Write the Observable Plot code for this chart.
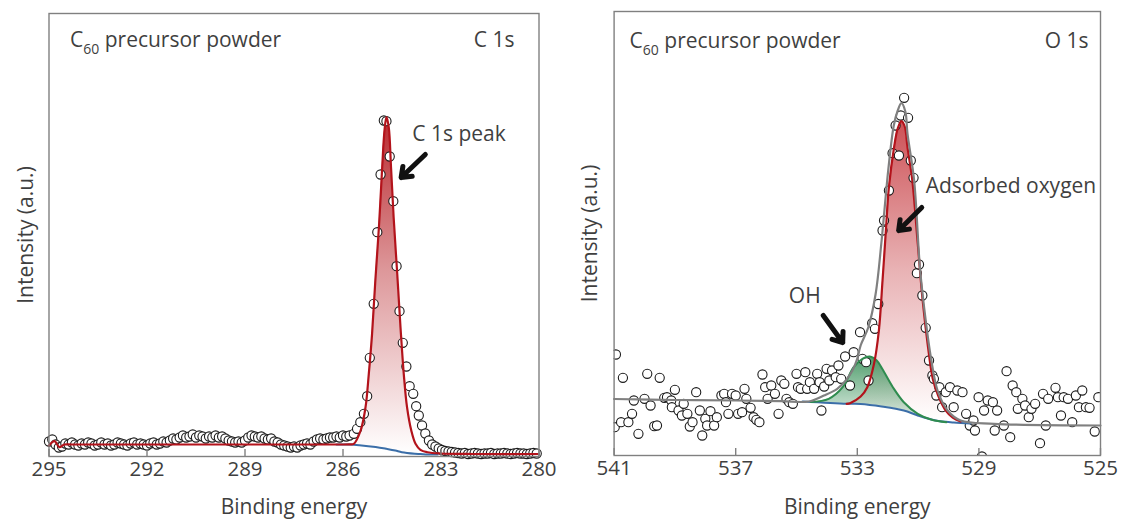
<!DOCTYPE html>
<html><head><meta charset="utf-8">
<script src="https://cdn.jsdelivr.net/npm/d3@7"></script>
<script src="https://cdn.jsdelivr.net/npm/@observablehq/plot@0.6"></script>
<style>
body{margin:0;background:#fff;}
#wrap{display:flex;width:1123px;height:522px;overflow:hidden;}
</style></head><body><div id="wrap"></div>
<script>
// ---------- C 1s panel data ----------
const c1sTicks = [295, 292, 289, 286, 283, 280];
const c1sE = [295.0,294.9,294.8,294.7,294.6,294.5,294.4,294.3,294.2,294.1,294.0,293.9,293.8,293.7,293.6,293.5,293.4,293.3,293.2,293.1,293.0,292.9,292.8,292.7,292.6,292.5,292.4,292.3,292.2,292.1,292.0,291.9,291.8,291.7,291.6,291.5,291.4,291.3,291.2,291.1,291.0,290.9,290.8,290.7,290.6,290.5,290.4,290.3,290.2,290.1,290.0,289.9,289.8,289.7,289.6,289.5,289.4,289.3,289.2,289.1,289.0,288.9,288.8,288.7,288.6,288.5,288.4,288.3,288.2,288.1,288.0,287.9,287.8,287.7,287.6,287.5,287.4,287.3,287.2,287.1,287.0,286.9,286.8,286.7,286.6,286.5,286.4,286.3,286.2,286.1,286.0,285.9,285.8,
285.67,285.57,285.47,285.36,285.26,285.18,285.06,284.95,284.85,284.75,284.67,284.57,284.46,284.36,284.27,284.17,284.06,283.96,283.85,283.76,283.68,283.58,283.48,283.37,
283.27,283.17,283.07,282.97,282.87,282.77,282.67,282.57,282.47,
282.37,282.27,282.17,282.07,281.97,281.87,281.77,281.67,281.57,281.47,281.37,281.27,281.17,281.07,280.97,280.87,280.77,280.67,280.57,280.47,280.37,280.27,280.17,280.07];
const c1sI = [15,17,12,9,10,13,12,14,12,11,
13,12,14,13,11,12,14,12,13,11,
12,14,13,12,11,13,14,12,13,12,
11,13,14,12,13,15,14,16,18,17,
19,21,19,20,22,19,21,20,18,20,
19,21,19,20,18,16,15,14,15,14,
16,19,21,20,19,20,18,17,18,15,
14,12,11,10,9,10,9,11,12,13,
12,15,17,18,17,18,19,19,20,19,
21,20,21,
22.7,27.7,34.3,42.7,60.3,98.7,152.7,224.3,282,336,335.3,300,255.3,190.3,145.3,113.7,90,70.3,62.7,50.3,41,31,23,16,
12,10,8,6.5,5.5,5,4.5,4,3.5,
3,3.5,2.5,3,3.5,3,2.5,3,3,3.5,2.5,3,3,3.5,3,2.5,3,3.5,3,3,2.5,3,3.5,3];
// fitted envelope (red)
const c1sFitE = [295.0,294.83,294.68,294.53,294.3,292,290,288,286.2,285.8,285.67,285.46,285.31,285.21,285.11,285.01,284.90,284.80,284.73,284.67,284.60,284.53,284.45,284.34,284.24,284.14,284.04,283.91,283.78,283.63,283.42,283.0,282.0,280.0];
const c1sFitY = [11,15.3,9.3,12,12,12,12,12,12,12.2,12.7,26,49.3,82.7,122.7,176,229.3,289.3,326,339.3,329.3,289.3,239.3,182.7,129.3,82.7,49.3,26,12.7,6.7,4.3,3,2.5,2.5];
// peak component (filled) and the background under it
const c1sPeakE = [285.8,285.67,285.46,285.31,285.21,285.11,285.01,284.90,284.80,284.73,284.67,284.60,284.53,284.45,284.34,284.24,284.14,284.04,283.91,283.78,283.63,283.42];
const c1sPeakY = [12.2,12.7,26,49.3,82.7,122.7,176,229.3,289.3,326,339.3,329.3,289.3,239.3,182.7,129.3,82.7,49.3,26,12.7,6.7,4.3];
const c1sPeakBase = [12,11.8,11.2,10.8,10.4,10,9.5,9,8.5,8,7.7,7.3,7,6.5,5.8,4.8,4,3.5,3,2.6,2.5,2.2];
// background (blue)
const c1sBgE = [286.2,285.8,285.5,285.0,284.67,284.4,284.2,283.8,283.63,283.4,283.1];
const c1sBgY = [12,12,11.3,9.5,7.7,6,4.3,2.8,2.5,2,2];
const c1sLabel = [{E: 283.88, y: 322, text: "C 1s peak"}];
const c1sArrow = [{x1: 283.48, y1: 302, x2: 284.22, y2: 279}];

// ---------- O 1s panel data ----------
const o1sTicks = [541, 537, 533, 529, 525];
const o1sE = [540.98,540.94,540.77,540.71,540.53,540.41,540.35,540.20,540.00,539.91,539.80,539.68,539.59,539.50,539.35,539.26,539.12,539.10,539.00,538.88,538.77,538.71,538.59,538.51,538.42,538.30,538.18,538.10,538.00,537.94,537.83,537.71,537.62,537.47,537.38,537.32,537.24,537.12,537.00,536.92,536.79,536.71,536.65,536.51,536.41,536.32,536.22,536.12,536.03,535.95,535.83,535.71,535.59,535.50,535.40,535.33,535.24,535.12,535.00,534.95,534.86,534.71,534.65,534.56,534.42,534.32,534.24,534.18,534.09,534.01,533.92,533.83,533.71,533.62,533.53,533.40,533.24,533.12,532.91,532.83,532.71,532.63,532.51,532.42,532.31,532.17,532.12,531.96,531.84,531.74,531.63,531.57,531.46,531.33,531.24,531.15,531.04,530.97,530.86,530.75,530.64,530.53,530.48,530.40,530.30,530.21,530.09,529.95,529.83,529.71,529.54,529.42,529.30,529.18,529.13,529.01,528.90,528.83,528.71,528.54,528.48,528.40,528.18,528.09,527.97,527.89,527.77,527.72,527.57,527.48,527.36,527.27,527.15,526.99,526.89,526.80,526.72,526.48,526.40,526.30,526.21,526.07,525.93,525.81,525.71,525.60,525.48,525.36,525.19,525.07];
const o1sI = [28.3,101,33.3,77.7,33.3,41.7,55,21.7,56.7,81.7,50,29.3,30,77.7,57.7,58.3,55,48.3,65.7,45,40,51.7,41.7,29,33.3,63.3,45,20,36.7,30,44.3,30,38.3,60,61.7,53.3,41.7,61.7,60,41.7,43.3,66.7,56.7,47.7,38.3,35.7,33.3,81,68.3,56.7,70,61.7,41.7,75,71.7,56.7,53.3,51.7,81.7,68.3,66.7,83.3,66.7,73.3,66.7,81.7,73.3,45,69,86.7,75,85,78.3,90,76.7,99,70,103.3,123.3,96.7,93.3,75,132.3,126.7,151.5,225,235,265,302.3,330,300,340,357.7,337.7,295,277.7,182.3,191,160,127.7,95,80,76.7,60,68.3,48.3,63.3,68.3,48.3,65,63.3,41.7,30,35,25,58.3,-1,45,55,53.3,25,45,30,84.3,18.3,70,63.3,46.7,56.7,50,38.3,46.7,51.7,12.3,61.7,30,56.7,67.7,58.3,40,58.3,56.7,33.3,60,48.3,65,48.3,47.7,24,58.3];
// total envelope (grey)
const o1sFitE = [541,539,537,535.5,534.6,534.1,533.66,533.38,533.16,533.0,532.89,532.64,532.40,532.2,531.98,531.8,531.68,531.55,531.42,531.35,531.13,530.94,530.75,530.58,530.36,530.03,529.6,528.5,525];
const o1sFitY = [56.5,55.5,55,54.3,54,60,66.7,75,85,97,110,128,161,215,286,330,344,352.3,344,322,275,188,135,98,65,45,35,31.7,30];
// adsorbed oxygen component (red)
const o1sMainE = [533.35,533.24,532.89,532.67,532.45,532.29,532.17,532.06,531.96,531.79,531.67,531.55,531.44,531.35,531.19,531.02,530.85,530.68,530.52,530.34,530.09,529.86,529.6];
const o1sMainY = [51.7,52.3,59,68.3,91.7,125,175,225,268.3,308.3,327,334.3,329,308.3,275,215,155,110,77,60,45,38,34];
const o1sMainBase = [51.7,51.6,51.5,50.8,50.2,49.5,49,48.6,48.2,47.5,46.5,45.8,44.8,44,42.5,40.2,38.5,37,35.8,34.8,34,33.3,33];
// OH component (green)
const o1sOHE = [534.53,533.94,533.48,533.12,532.83,532.59,532.36,532.18,531.83,531.47,531.01,530.55,530.07];
const o1sOHY = [53.5,56.7,68.3,88.3,96.7,99,95,86.7,68.3,53.3,41.7,35.7,33.3];
const o1sOHBase = [53.5,52.5,52,51.7,51.4,50.7,50,49,47.5,45,40,36,34];
// background (blue)
const o1sBgE = [534.8,533.35,532.89,532.20,531.47,531.01,530.42,529.83,529.27];
const o1sBgY = [54,51.7,51.5,49,45,40,35,33,32];
const o1sLabelMain = [{E: 530.75, y: 269.5, text: "Adsorbed oxygen"}];
const o1sLabelOH = [{E: 534.73, y: 159, text: "OH"}];
const o1sArrows = [{x1: 530.88, y1: 248, x2: 531.64, y2: 225}, {x1: 534.12, y1: 140, x2: 533.48, y2: 113}];

// ---------- styling ----------
const FONT = '"Open Sans", "Noto Sans", sans-serif';
const TXT = "#3f3f3f";
const FRAME = "#808080";
const RED = "#b3131b", BLUE = "#3b6ea8", GREEN = "#2f8c4f", GREY = "#808080";
const FS = 21, TICKFS = 20.5;

const zip = (xs, ys, extra) => xs.map((x, i) => ({E: x, y: ys[i], b: extra ? extra[i] : undefined}));

function addDefs(svg, defs) {
  const d = d3.select(svg).insert("defs", ":first-child");
  defs.forEach(({id, color, stops}) => {
    const g = d.append("linearGradient").attr("id", id).attr("x1", 0).attr("y1", 0).attr("x2", 0).attr("y2", 1);
    stops.forEach(([o, op]) => g.append("stop").attr("offset", o).attr("stop-color", color).attr("stop-opacity", op));
  });
}
function addText(svg, x, y, anchor, parts) {
  const t = d3.select(svg).append("text").attr("x", x).attr("y", y).attr("text-anchor", anchor)
    .attr("fill", TXT).attr("font-family", FONT).attr("font-size", FS);
  parts.forEach(p => {
    if (typeof p === "string") t.append("tspan").text(p);
    else t.append("tspan").attr("font-size", p.size).attr("dy", p.dy).text(p.text);
  });
}
const c60 = [ "C", {text: "60", size: 14, dy: 7}, {text: " precursor powder", size: FS, dy: -7} ];
const arrowStyle = {x1: "x1", y1: "y1", x2: "x2", y2: "y2", stroke: "#111", strokeWidth: 5, headLength: 13, headAngle: 75};
const dotStyle = {x: "E", y: "y", r: 4.6, stroke: "#1c1c1c", strokeWidth: 1.1, fill: "white"};

// ---------- left panel ----------
const L = {w: 560, h: 522, ml: 48.5, mr: 21.5, mt: 13, mb: 66};
const left = Plot.plot({
  width: L.w, height: L.h,
  marginLeft: L.ml, marginRight: L.mr, marginTop: L.mt, marginBottom: L.mb,
  x: {domain: [295, 280]},
  y: {domain: [0, 443], axis: null},
  style: {fontFamily: FONT, color: TXT, background: "white", overflow: "visible"},
  marks: [
    Plot.areaY(zip(c1sPeakE, c1sPeakY, c1sPeakBase), {x: "E", y1: "b", y2: "y", fill: "url(#gradC)", curve: "catmull-rom"}),
    Plot.dot(zip(c1sE, c1sI), dotStyle),
    Plot.line(zip(c1sBgE, c1sBgY), {x: "E", y: "y", stroke: BLUE, strokeWidth: 2, curve: "catmull-rom"}),
    Plot.line(zip(c1sFitE, c1sFitY), {x: "E", y: "y", stroke: RED, strokeWidth: 2.2, curve: "catmull-rom"}),
    Plot.frame({stroke: FRAME, strokeWidth: 1.4}),
    Plot.ruleX(c1sTicks, {y1: 0, y2: 7, stroke: FRAME, strokeWidth: 1.4}),
    Plot.axisX({ticks: c1sTicks, tickSize: 0, tickPadding: 5, fontSize: TICKFS, tickFormat: d => String(d)}),
    Plot.text(["Binding energy"], {frameAnchor: "bottom", lineAnchor: "middle", textAnchor: "middle", dy: 51, fontSize: FS, fill: TXT}),
    Plot.text(["Intensity (a.u.)"], {frameAnchor: "left", textAnchor: "middle", lineAnchor: "middle", rotate: -90, dx: -23, fontSize: FS, fill: TXT}),
    Plot.text(c1sLabel, {x: "E", y: "y", text: "text", textAnchor: "start", fontSize: FS, fill: TXT}),
    Plot.arrow(c1sArrow, arrowStyle)
  ]
});
addDefs(left, [{id: "gradC", color: "#b3161c", stops: [[0, 0.92], [0.45, 0.45], [1, 0.0]]}]);
addText(left, L.ml + 21.5, L.mt + 34, "start", c60);
addText(left, L.w - L.mr - 24, L.mt + 34, "end", ["C 1s"]);

// ---------- right panel ----------
const R = {w: 563, h: 522, ml: 53.6, mr: 23, mt: 11, mb: 67};
const right = Plot.plot({
  width: R.w, height: R.h,
  marginLeft: R.ml, marginRight: R.mr, marginTop: R.mt, marginBottom: R.mb,
  x: {domain: [541, 525]},
  y: {domain: [0, 444], axis: null},
  style: {fontFamily: FONT, color: TXT, background: "white", overflow: "visible"},
  marks: [
    Plot.areaY(zip(o1sMainE, o1sMainY, o1sMainBase), {x: "E", y1: "b", y2: "y", fill: "url(#gradO)", curve: "catmull-rom"}),
    Plot.areaY(zip(o1sOHE, o1sOHY, o1sOHBase), {x: "E", y1: "b", y2: "y", fill: "url(#gradOH)", curve: "catmull-rom"}),
    Plot.dot(zip(o1sE, o1sI), {...dotStyle, clip: true}),
    Plot.line(zip(o1sBgE, o1sBgY), {x: "E", y: "y", stroke: BLUE, strokeWidth: 2, curve: "catmull-rom"}),
    Plot.line(zip(o1sOHE, o1sOHY), {x: "E", y: "y", stroke: GREEN, strokeWidth: 2, curve: "catmull-rom"}),
    Plot.line(zip(o1sMainE, o1sMainY), {x: "E", y: "y", stroke: RED, strokeWidth: 2.2, curve: "catmull-rom"}),
    Plot.line(zip(o1sFitE, o1sFitY), {x: "E", y: "y", stroke: GREY, strokeWidth: 2.2, curve: "catmull-rom"}),
    Plot.frame({stroke: FRAME, strokeWidth: 1.4}),
    Plot.ruleX(o1sTicks, {y1: 0, y2: 7, stroke: FRAME, strokeWidth: 1.4}),
    Plot.axisX({ticks: o1sTicks, tickSize: 0, tickPadding: 5, fontSize: TICKFS, tickFormat: d => String(d)}),
    Plot.text(["Binding energy"], {frameAnchor: "bottom", lineAnchor: "middle", textAnchor: "middle", dy: 52, fontSize: FS, fill: TXT}),
    Plot.text(["Intensity (a.u.)"], {frameAnchor: "left", textAnchor: "middle", lineAnchor: "middle", rotate: -90, dx: -24, fontSize: FS, fill: TXT}),
    Plot.text(o1sLabelMain, {x: "E", y: "y", text: "text", textAnchor: "start", fontSize: FS, fill: TXT}),
    Plot.text(o1sLabelOH, {x: "E", y: "y", text: "text", textAnchor: "middle", fontSize: FS, fill: TXT}),
    Plot.arrow(o1sArrows, arrowStyle)
  ]
});
addDefs(right, [
  {id: "gradO", color: "#c0262c", stops: [[0, 0.8], [0.5, 0.35], [1, 0.0]]},
  {id: "gradOH", color: "#2e8b50", stops: [[0, 0.85], [1, 0.12]]}
]);
addText(right, R.ml + 16, R.mt + 37, "start", c60);
addText(right, R.w - R.mr - 11.4, R.mt + 37, "end", ["O 1s"]);

document.getElementById("wrap").append(left, right);
</script>
</body></html>
